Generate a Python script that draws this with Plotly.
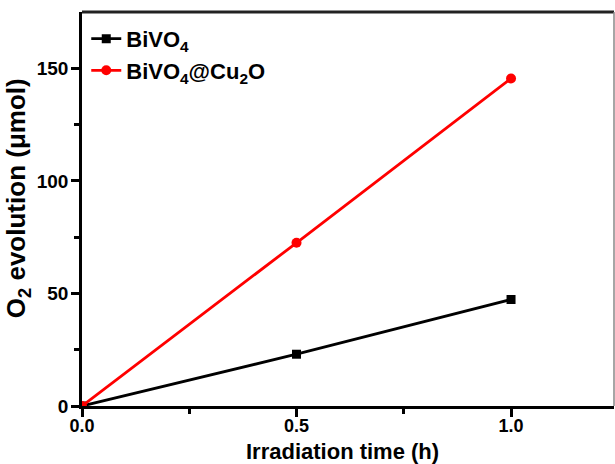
import plotly.graph_objects as go

time_h = [0.0, 0.5, 1.0]
bivo4 = [0.0, 23.0, 47.3]
bivo4_cu2o = [0.0, 72.5, 145.5]
series_names = ["BiVO<sub>4</sub>", "BiVO<sub>4</sub>@Cu<sub>2</sub>O"]
x_title = "Irradiation time (h)"
y_title = "O<sub>2</sub> evolution (μmol)"

FONT = "Liberation Sans, Arial, sans-serif"

fig = go.Figure()
fig.add_trace(go.Scatter(
    x=time_h, y=bivo4, mode="lines+markers", name=series_names[0],
    line=dict(color="black", width=2.8),
    marker=dict(symbol="square", size=9, color="black"),
))
fig.add_trace(go.Scatter(
    x=time_h, y=bivo4_cu2o, mode="lines+markers", name=series_names[1],
    line=dict(color="#ff0000", width=2.8),
    marker=dict(symbol="circle", size=10, color="#ff0000"),
))

fig.update_layout(
    width=615, height=464,
    margin=dict(l=82, r=1, t=12, b=58),
    paper_bgcolor="white", plot_bgcolor="white",
    font=dict(family=FONT, color="black"),
    showlegend=True,
    legend=dict(
        x=0.008, y=0.985, xanchor="left", yanchor="top",
        font=dict(size=22, family=FONT, color="black", weight="bold"),
        bgcolor="rgba(0,0,0,0)", itemwidth=30, tracegroupgap=0,
    ),
    xaxis=dict(
        range=[0, 1.24], tickvals=[0, 0.5, 1.0], ticktext=["0.0", "0.5", "1.0"],
        automargin=False, ticklabelstandoff=-6,
        ticks="outside", ticklen=8, tickwidth=2.5, tickcolor="black",
        minor=dict(tickvals=[0.25, 0.75], ticks="outside", ticklen=5, tickwidth=2.5, tickcolor="black"),
        showline=True, linewidth=2.5, linecolor="black", showgrid=False, zeroline=False,
        tickfont=dict(size=18, family=FONT, color="black", weight="bold"),
    ),
    yaxis=dict(
        range=[0, 175], tickvals=[0, 50, 100, 150],
        automargin=False, ticklabelstandoff=-1,
        ticks="outside", ticklen=8, tickwidth=2.5, tickcolor="black",
        minor=dict(tickvals=[25, 75, 125], ticks="outside", ticklen=5, tickwidth=2.5, tickcolor="black"),
        showline=True, linewidth=2.5, linecolor="black", showgrid=False, zeroline=False,
        tickfont=dict(size=19, family=FONT, color="black", weight="bold"),
    ),
    annotations=[
        dict(text=x_title, xref="paper", yref="paper", x=0.489, y=-0.115,
             xanchor="center", yanchor="middle", showarrow=False, borderpad=0,
             font=dict(size=22, family=FONT, color="black", weight="bold")),
        dict(text=y_title, xref="paper", yref="paper", x=-0.12, y=0.528,
             xanchor="center", yanchor="middle", showarrow=False, textangle=-90,
             font=dict(size=26, family=FONT, color="black", weight="bold")),
    ],
    shapes=[
        dict(type="line", xref="paper", yref="paper", x0=0, x1=1, y0=1, y1=1,
             line=dict(color="#222222", width=3)),
        dict(type="line", xref="paper", yref="paper", x0=1, x1=1, y0=0, y1=1,
             line=dict(color="#888888", width=1.5)),
    ],
)

fig.write_html("out.html")
